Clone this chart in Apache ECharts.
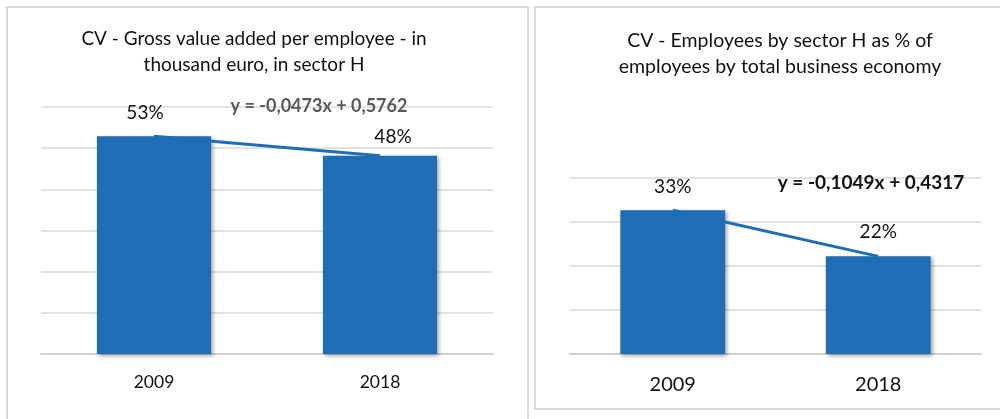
<!DOCTYPE html>
<html>
<head>
<meta charset="utf-8">
<title>CV - sector H</title>
<script src="https://cdn.jsdelivr.net/npm/echarts@6/dist/echarts.min.js"></script>
<style>
  html, body { margin: 0; padding: 0; background: #fff; }
  #chart { width: 1000px; height: 419px; }
</style>
</head>
<body>
<div id="chart"></div>
<script>
// Categories shared by both panels
const years = ['2009', '2018'];

// Left panel: gross value added per employee (share)
const gvaValues = [0.5289, 0.4816];
const gvaTrend = { slope: -0.0473, intercept: 0.5762 };
const gvaTitle = ['CV - Gross value added per employee - in', 'thousand euro, in sector H'];

// Right panel: employees of sector H as share of total business economy
const empValues = [0.3268, 0.2219];
const empTrend = { slope: -0.1049, intercept: 0.4317 };
const empTitle = ['CV - Employees by sector H as % of', 'employees by total business economy'];

// Value-axis ticks
const gvaAxis = { min: 0, max: 0.6, interval: 0.1 };
const empAxis = { min: 0, max: 0.4, interval: 0.1 };

const FONT = 'Lato, "Open Sans", sans-serif';
const BLUE = '#1f6db4';

function trendPoints(t, n) {
  const out = [];
  for (let i = 1; i <= n; i++) out.push(+(t.slope * i + t.intercept).toFixed(4));
  return out;
}
function fmtEq(t) {
  const f = v => Math.abs(v).toFixed(4).replace('.', ',');
  return 'y = ' + (t.slope < 0 ? '-' : '') + f(t.slope) + 'x ' + (t.intercept < 0 ? '- ' : '+ ') + f(t.intercept);
}
function pct(v) { return Math.round(v * 100) + '%'; }

function barData(values, offsets, dist) {
  return values.map((v, i) => ({
    value: v,
    label: { offset: offsets[i], distance: dist[i] }
  }));
}

const chart = echarts.init(document.getElementById('chart'), null, { renderer: 'canvas' });

const splitLine = { show: true, lineStyle: { color: '#d9d9d9', width: 1.5 } };
const baseLine = { show: true, lineStyle: { color: '#d0d0d0', width: 2 } };
const barStyle = {
  color: BLUE,
  shadowColor: 'rgba(0,0,0,0.35)',
  shadowBlur: 4,
  shadowOffsetX: 2,
  shadowOffsetY: 2
};

chart.setOption({
  animation: false,
  backgroundColor: '#fff',
  title: [
    { text: gvaTitle.join('\n'), left: 249, top: 21, textAlign: 'center',
      textStyle: { fontFamily: FONT, fontSize: 19, fontWeight: 'normal', color: '#111', lineHeight: 26, align: 'center' } },
    { text: empTitle.join('\n'), left: 775, top: 23, textAlign: 'center',
      textStyle: { fontFamily: FONT, fontSize: 19.5, fontWeight: 'normal', color: '#111', lineHeight: 26, align: 'center' } }
  ],
  grid: [
    { left: 41, right: 507, top: 107, bottom: 65 },
    { left: 570, right: 19, top: 178, bottom: 65 }
  ],
  xAxis: [
    { type: 'category', gridIndex: 0, data: years, axisTick: { show: false }, axisLine: baseLine,
      axisLabel: { fontFamily: FONT, fontSize: 17.5, color: '#111', margin: 19 } },
    { type: 'category', gridIndex: 1, data: years, axisTick: { show: false }, axisLine: baseLine,
      axisLabel: { fontFamily: FONT, fontSize: 20, color: '#111', margin: 21 } }
  ],
  yAxis: [
    { type: 'value', gridIndex: 0, min: gvaAxis.min, max: gvaAxis.max, interval: gvaAxis.interval,
      axisLabel: { show: false }, axisLine: { show: false }, axisTick: { show: false }, splitLine: splitLine },
    { type: 'value', gridIndex: 1, min: empAxis.min, max: empAxis.max, interval: empAxis.interval,
      axisLabel: { show: false }, axisLine: { show: false }, axisTick: { show: false }, splitLine: splitLine }
  ],
  series: [
    { type: 'bar', xAxisIndex: 0, yAxisIndex: 0, barCategoryGap: '49.5%',
      data: barData(gvaValues, [[-9, 0], [13, 0]], [14, 9]),
      itemStyle: barStyle,
      label: { show: true, position: 'top', formatter: p => pct(p.value),
        fontFamily: FONT, fontSize: 19, color: '#111' } },
    { type: 'line', xAxisIndex: 0, yAxisIndex: 0, data: trendPoints(gvaTrend, years.length),
      symbol: 'none', lineStyle: { color: BLUE, width: 3 }, z: 3 },
    { type: 'bar', xAxisIndex: 1, yAxisIndex: 1, barCategoryGap: '49%',
      data: barData(empValues, [[0, 0], [0, 0]], [14, 15]),
      itemStyle: barStyle,
      label: { show: true, position: 'top', formatter: p => pct(p.value),
        fontFamily: FONT, fontSize: 19, color: '#111' } },
    { type: 'line', xAxisIndex: 1, yAxisIndex: 1, data: trendPoints(empTrend, years.length),
      symbol: 'none', lineStyle: { color: BLUE, width: 3 }, z: 3 }
  ],
  graphic: [
    // panel frames
    { type: 'rect', shape: { x: 7, y: 7, width: 521, height: 440 }, silent: true, z: -10,
      style: { fill: 'none', stroke: '#d9d9d9', lineWidth: 2 } },
    { type: 'rect', shape: { x: 535, y: 7, width: 480, height: 402 }, silent: true, z: -10,
      style: { fill: 'none', stroke: '#d9d9d9', lineWidth: 2 } },
    // trendline equations
    { type: 'text', x: 319, y: 106, z: 10,
      style: { text: fmtEq(gvaTrend), font: 'bold 18px ' + FONT, fill: '#595959',
        textAlign: 'center', textVerticalAlign: 'middle' } },
    { type: 'text', x: 871, y: 183, z: 10,
      style: { text: fmtEq(empTrend), font: 'bold 19px ' + FONT, fill: '#111',
        textAlign: 'center', textVerticalAlign: 'middle' } }
  ]
});
</script>
</body>
</html>
